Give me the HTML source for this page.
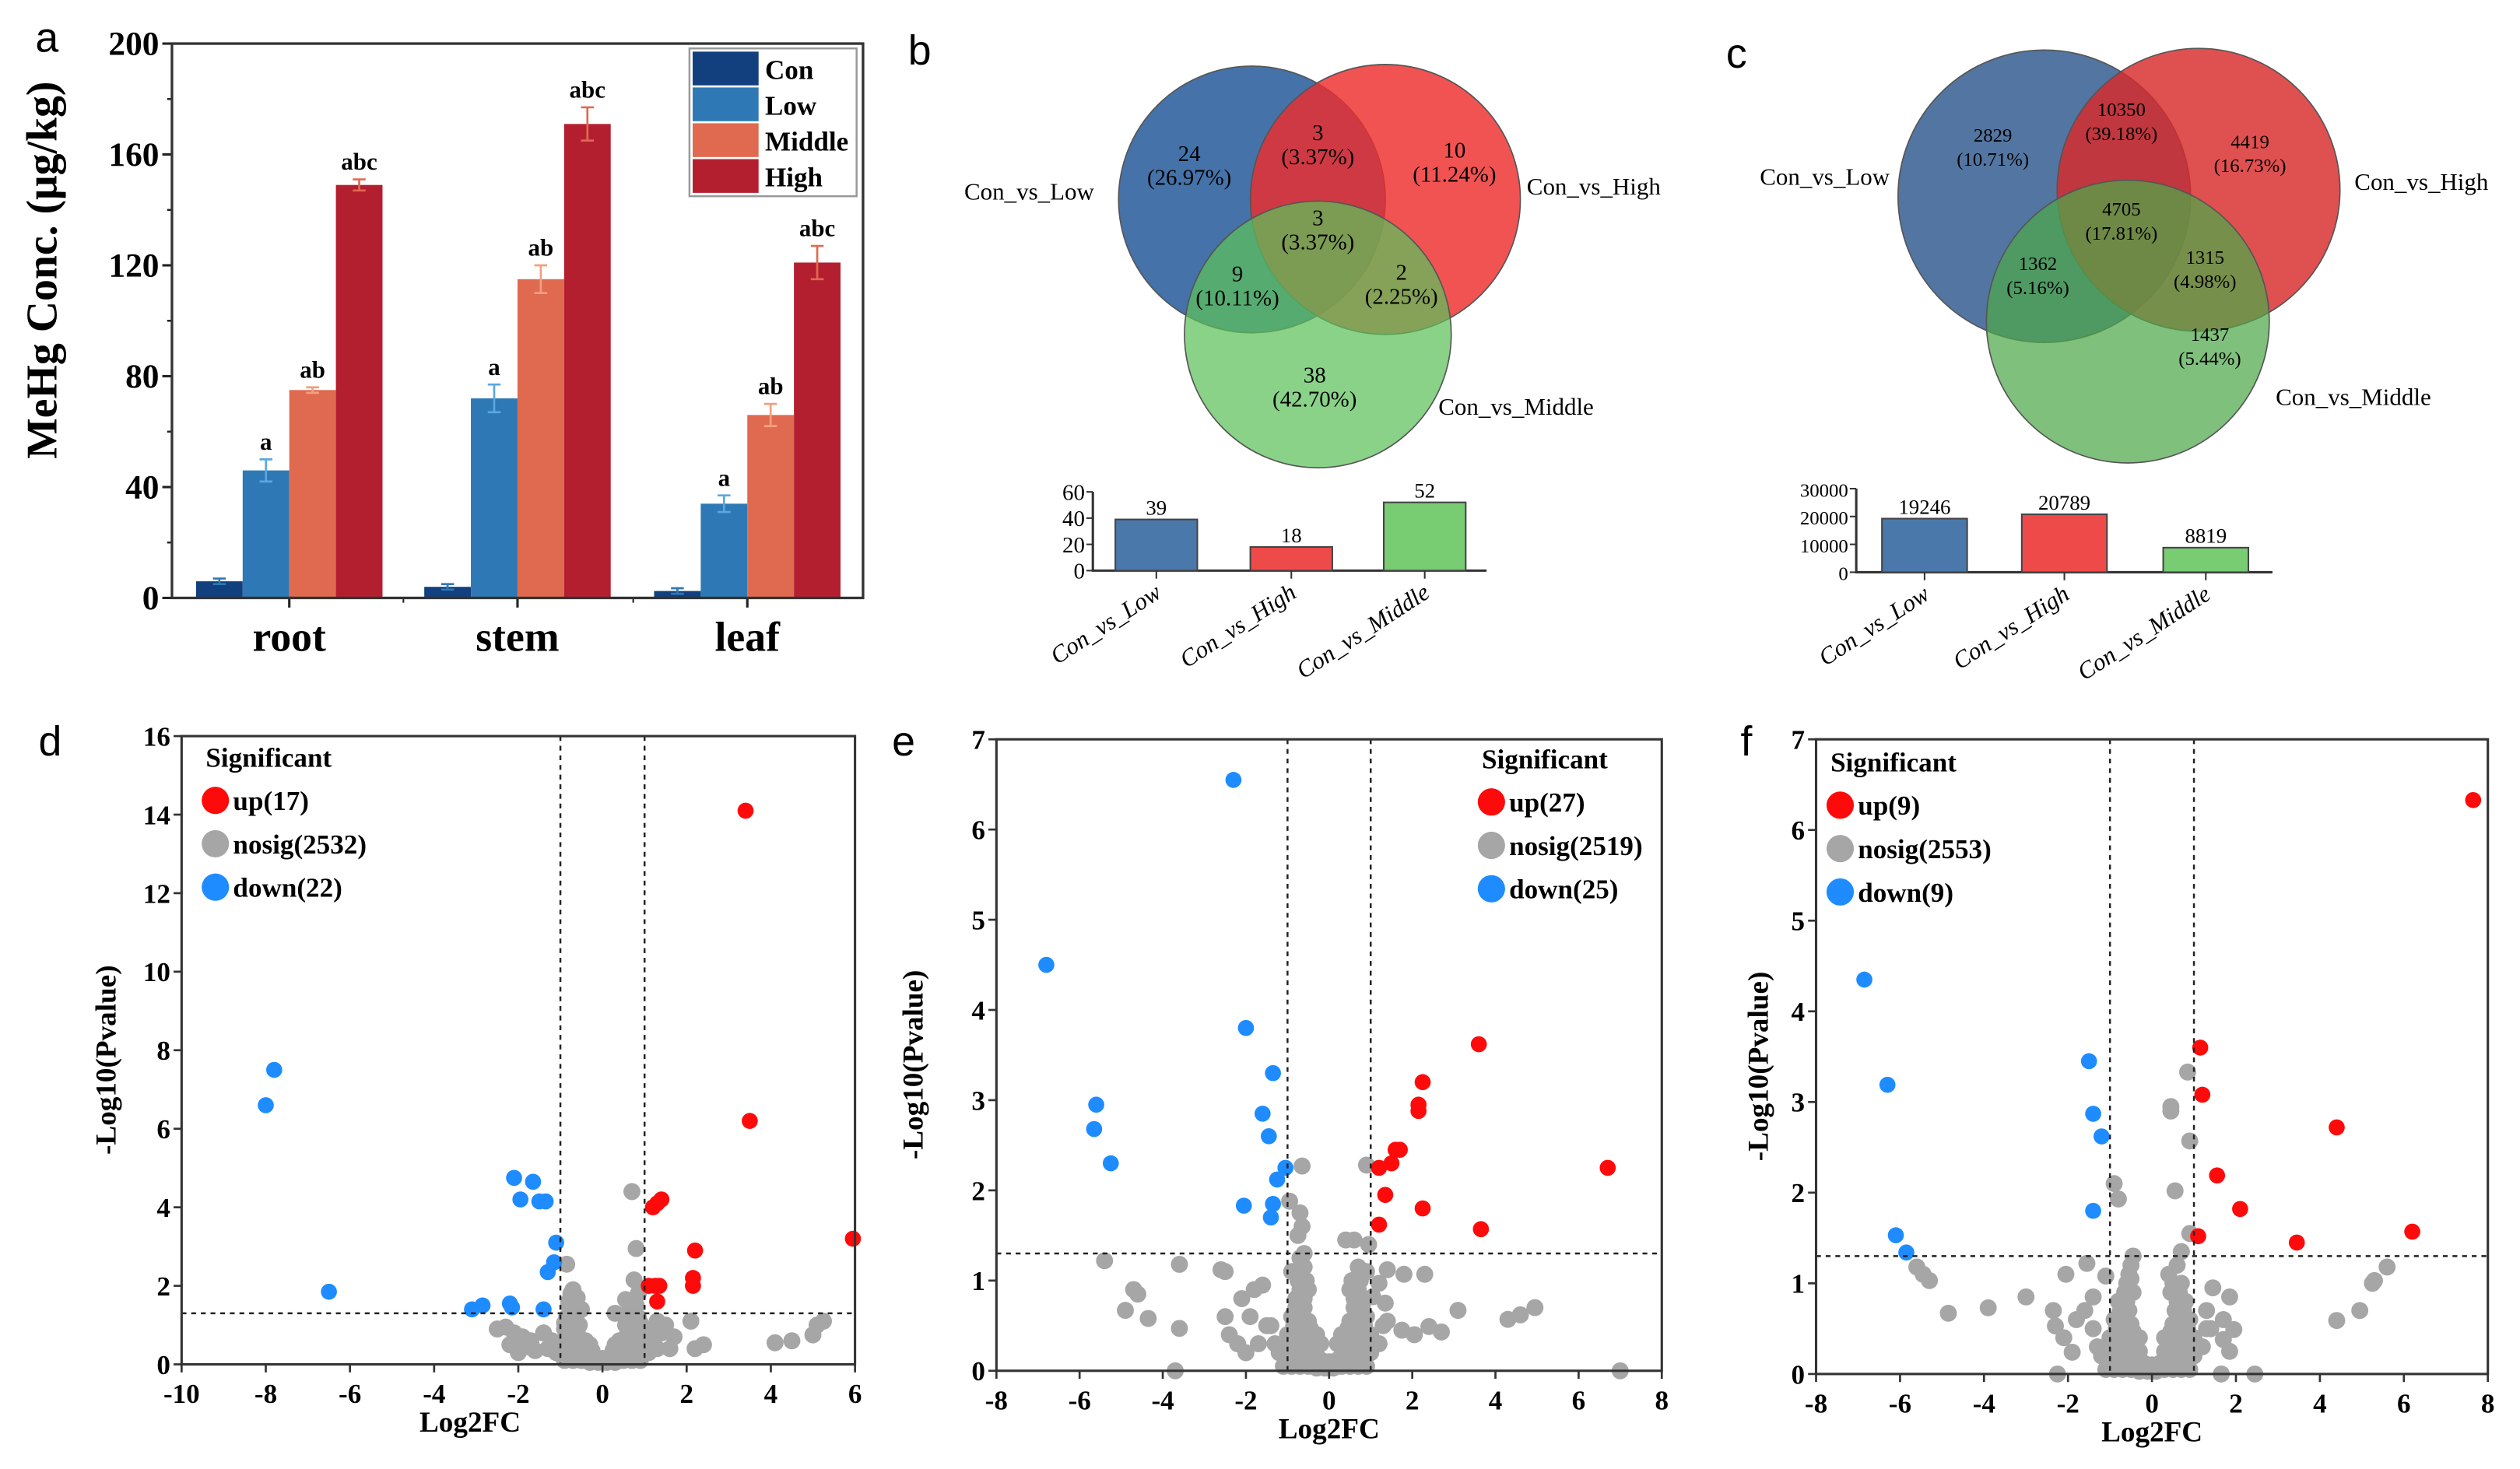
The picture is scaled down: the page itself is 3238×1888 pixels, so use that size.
<!DOCTYPE html>
<html><head><meta charset="utf-8">
<style>
html,body{margin:0;padding:0;background:#fff;}
svg{display:block;}
text{font-family:"Liberation Serif",serif;}
.b{font-weight:bold;}
.sans{font-family:"Liberation Sans",sans-serif;}
</style></head>
<body>
<svg id="fig" width="3238" height="1888" viewBox="0 0 1568 914" xmlns="http://www.w3.org/2000/svg">
<g id="pa"></g>
<g id="pb"></g>
<g id="pc"></g>
<g id="pd"></g>
<g id="pe"></g>
<g id="pf"></g>
</svg>
<script>
// ---------- Panel a data ----------
const aTissues = ["root","stem","leaf"];
const aSeries = ["Con","Low","Middle","High"];
const aCon = [6,4,2.5];
const aLow = [46,72,34];
const aMid = [75,115,66];
const aHigh = [149,171,121];
const aErrCon = [1,1,1];
const aErrLow = [4,5,3];
const aErrMid = [1,5,4];
const aErrHigh = [2,6,6];
const aLetters = [["","a","ab","abc"],["","a","ab","abc"],["","a","ab","abc"]];
const aTicks = [0,40,80,120,160,200];
// ---------- Panel b/c data ----------
const bCats = ["Con_vs_Low","Con_vs_High","Con_vs_Middle"];
const bVals = [39,18,52];
const bTicks = [0,20,40,60];
const bVenn = ["24","(26.97%)","3","(3.37%)","10","(11.24%)","3","(3.37%)","9","(10.11%)","2","(2.25%)","38","(42.70%)"];
const cVals = [19246,20789,8819];
const cTicks = [0,10000,20000,30000];
const cVenn = ["2829","(10.71%)","10350","(39.18%)","4419","(16.73%)","4705","(17.81%)","1362","(5.16%)","1315","(4.98%)","1437","(5.44%)"];
// ---------- Panel d data ----------
const dUpX = [3.4,3.5,5.95,1.2,1.4,1.3,2.2,2.15,2.15,1.1,1.25,1.3,1.35];
const dUpY = [14.1,6.2,3.2,4.0,4.2,4.1,2.9,2.2,2.0,2.0,2.0,1.6,2.0];
const dDownX = [-8,-7.8,-6.5,-2.1,-1.65,-1.95,-1.5,-1.35,-1.1,-1.15,-1.3,-3.1,-2.85,-2.2,-2.15,-1.4];
const dDownY = [6.6,7.5,1.85,4.75,4.65,4.2,4.15,4.15,3.1,2.6,2.35,1.4,1.5,1.55,1.45,1.4];
const dNsX = [0.7,0.8,-0.85,0.75,0.55,-0.7,-0.6,-0.8,-0.5,0.3,-2.5,-2.3,-2.1,-1.9,-1.7,-2.2,-1.6,-1.8,-2.0,1.1,1.3,1.5,1.7,1.2,1.6,2.1,2.2,2.4,4.1,4.5,5.0,5.1,5.25,
 -0.9,-0.7,-0.5,-0.3,-0.1,0.1,0.3,0.5,0.7,0.9,-1.0,-0.8,-0.6,-0.4,-0.2,0,0.2,0.4,0.6,0.8,1.0,-0.9,-0.7,-0.5,0.5,0.7,0.9,-0.9,-0.7,-0.6,0.6,0.8,0.9,-0.85,-0.7,0.7,0.85,-0.8,-0.65,0.8,-0.75,0.85,-1.2,-1.4,1.2,1.4,
 -0.95,-0.75,-0.55,-0.35,-0.15,0.05,0.25,0.45,0.65,0.85,-0.85,-0.65,-0.45,-0.25,0.25,0.45,0.65,0.85,-0.8,-0.6,-0.4,0.4,0.6,0.8,-0.75,-0.55,0.55,0.75,-0.7,0.7,-0.9,-0.6,0.6,0.9,-0.3,0.3,-1.1,1.1,-1.3,1.3];
const dNsY = [4.4,2.95,2.55,2.15,1.65,1.9,1.7,1.6,1.4,1.3,0.9,0.95,0.8,0.7,0.6,0.5,0.35,0.45,0.3,0.9,1.1,1.0,0.7,0.5,0.4,1.1,0.4,0.5,0.55,0.6,0.75,1.0,1.1,
 0.1,0.1,0.1,0.05,0.05,0.05,0.05,0.1,0.1,0.1,0.3,0.3,0.3,0.25,0.2,0.15,0.2,0.25,0.3,0.3,0.3,0.6,0.6,0.5,0.5,0.6,0.6,0.9,0.9,0.8,0.8,0.9,0.9,1.2,1.2,1.2,1.2,1.5,1.5,1.5,1.8,1.8,0.6,0.8,0.6,0.8,
 0.2,0.2,0.2,0.15,0.1,0.1,0.15,0.2,0.2,0.2,0.45,0.45,0.4,0.35,0.35,0.4,0.45,0.45,0.75,0.7,0.6,0.6,0.7,0.75,1.05,1.0,1.0,1.05,1.35,1.35,1.05,1.3,1.3,1.05,0.5,0.5,0.3,0.3,0.4,0.4];
// ---------- Panel e data ----------
const eUpX = [3.6,2.25,2.15,2.15,1.6,1.7,1.5,1.2,1.35,2.25,1.2,3.65,6.7];
const eUpY = [3.62,3.2,2.95,2.88,2.45,2.45,2.3,2.25,1.95,1.8,1.62,1.57,2.25];
const eDownX = [-2.3,-6.8,-2,-1.35,-5.6,-5.65,-5.25,-1.6,-1.45,-1.05,-1.25,-2.05,-1.35,-1.4];
const eDownY = [6.55,4.5,3.8,3.3,2.95,2.68,2.3,2.85,2.6,2.25,2.12,1.83,1.85,1.7];
const eNsX = [-0.65,0.9,-0.95,-0.7,-0.65,-0.75,0.4,0.6,0.95,-0.6,-5.4,-3.6,-2.5,-2.6,-4.7,-4.6,-4.9,-4.35,-3.6,-3.7,3.1,4.3,4.6,4.95,7,2.3,1.8,1.4,1.2,2.7,2.4,2.05,1.75,1.4,1.05,1.35,-1.6,-1.8,-2.1,-2.5,-2.4,-1.9,-2.2,-1.5,-1.7,-2.0,
 -1.1,-0.9,-0.7,-0.5,-0.3,-0.1,0.1,0.3,0.5,0.7,0.9,-1.2,-1.0,-0.8,-0.6,-0.4,-0.2,0,0.2,0.4,0.6,0.8,1.0,-1.0,-0.8,-0.6,-0.4,0.4,0.6,0.8,1.0,-0.9,-0.7,-0.5,0.5,0.7,0.9,-0.8,-0.6,0.6,0.8,-0.75,-0.55,0.55,0.75,-0.6,0.5,0.7,-0.7,0.2,-0.2,
 -1.0,-0.8,-0.6,-0.4,-0.2,0,0.2,0.4,0.6,0.8,-0.9,-0.7,-0.5,-0.3,0.3,0.5,0.7,0.9,-0.85,-0.65,-0.45,0.45,0.65,0.85,-0.8,-0.6,0.6,0.8,-0.7,-0.5,0.5,0.7,-1.3,1.2,-1.4,1.3,-0.3,0.3,-0.9,0.9];
const eNsY = [2.27,2.28,1.88,1.75,1.6,1.5,1.45,1.45,1.4,1.3,1.22,1.18,1.1,1.12,0.9,0.85,0.67,0.58,0.47,0.0,0.67,0.57,0.62,0.7,0,1.07,1.07,1.12,0.97,0.43,0.49,0.4,0.45,0.55,0.82,0.75,0.95,0.9,0.8,0.6,0.4,0.6,0.3,0.5,0.3,0.2,
 0.05,0.05,0.05,0.05,0.03,0.03,0.03,0.05,0.05,0.05,0.05,0.2,0.2,0.2,0.18,0.15,0.12,0.1,0.12,0.15,0.2,0.2,0.2,0.4,0.4,0.4,0.35,0.35,0.4,0.4,0.4,0.6,0.6,0.55,0.55,0.6,0.6,0.8,0.8,0.8,0.8,1.0,1.0,1.0,1.0,1.15,0.9,1.15,1.25,0.3,0.3,
 0.12,0.12,0.1,0.1,0.08,0.06,0.08,0.1,0.12,0.12,0.3,0.3,0.28,0.25,0.25,0.28,0.3,0.3,0.5,0.5,0.47,0.47,0.5,0.5,0.7,0.7,0.7,0.7,0.9,0.9,0.9,0.9,0.3,0.3,0.5,0.5,0.4,0.4,1.1,1.1];
// ---------- Panel f data ----------
const fUpX = [7.65,1.15,1.2,4.4,1.55,2.1,1.1,3.45,6.2];
const fUpY = [6.33,3.6,3.08,2.72,2.19,1.82,1.52,1.45,1.57];
const fDownX = [-6.85,-6.3,-1.5,-1.4,-1.2,-1.4,-6.1,-5.85];
const fDownY = [4.35,3.19,3.45,2.87,2.62,1.8,1.53,1.34];
const fNsX = [0.85,0.45,0.45,0.9,-0.9,-0.8,0.55,0.9,0.7,-0.45,-5.6,-5.45,-5.3,-4.85,-3.9,-3,-2.05,-1.55,-1.1,-2.35,-2.3,-2.1,-1.9,-2.25,1.45,1.85,1.7,1.95,1.7,1.85,1.65,2.45,4.4,4.95,5.25,5.3,5.6,-1.6,-1.8,-1.4,1.3,1.4,
 -1.1,-0.9,-0.7,-0.5,-0.3,-0.1,0.1,0.3,0.5,0.7,0.9,-1.2,-1.0,-0.8,-0.6,-0.4,-0.2,0,0.2,0.4,0.6,0.8,1.0,-1.0,-0.8,-0.6,-0.4,0.4,0.6,0.8,1.0,-0.9,-0.7,-0.5,0.5,0.7,0.9,-0.8,-0.6,0.6,0.8,-0.6,-0.5,0.5,0.7,-0.5,-0.45,0.4,0.6,
 -1.0,-0.8,-0.6,-0.4,-0.2,0,0.2,0.4,0.6,0.8,-0.9,-0.7,-0.5,-0.3,0.3,0.5,0.7,0.9,-0.85,-0.65,-0.45,0.45,0.65,0.85,-0.75,-0.55,0.55,0.75,-0.65,-0.45,0.45,0.65,-1.3,1.2,-1.4,1.3,-0.3,0.3,-0.55,0.5];
const fNsY = [3.33,2.95,2.9,2.57,2.1,1.93,2.02,1.55,1.35,1.3,1.18,1.1,1.03,0.67,0.73,0.85,1.1,1.22,1.08,0.7,0.53,0.4,0.24,0,0.95,0.85,0.6,0.49,0.38,0.25,0,0,0.59,0.7,1.0,1.03,1.18,0.7,0.6,0.85,0.7,0.5,
 0.05,0.05,0.05,0.05,0.03,0.03,0.03,0.05,0.05,0.05,0.05,0.2,0.2,0.2,0.18,0.15,0.12,0.1,0.12,0.15,0.2,0.2,0.2,0.4,0.4,0.4,0.35,0.35,0.4,0.4,0.4,0.6,0.6,0.55,0.55,0.6,0.6,0.8,0.8,0.8,0.8,1.0,1.05,1.0,1.0,1.2,1.3,1.1,1.2,
 0.12,0.12,0.1,0.1,0.08,0.06,0.08,0.1,0.12,0.12,0.3,0.3,0.28,0.25,0.25,0.28,0.3,0.3,0.5,0.5,0.47,0.47,0.5,0.5,0.7,0.7,0.7,0.7,0.9,0.9,0.9,0.9,0.3,0.3,0.5,0.5,0.4,0.4,1.1,0.9];

const NS = "http://www.w3.org/2000/svg";
function mk(parent, tag, attrs, txt){
  const e = document.createElementNS(NS, tag);
  for (const k in attrs) e.setAttribute(k, attrs[k]);
  if (txt !== undefined) e.textContent = txt;
  parent.appendChild(e);
  return e;
}
function named(e, name, inter){
  
  
  return e;
}

// ================= Panel a =================
(function(){
  const g = document.getElementById('pa');
  const L=107, R=537, T=27, B=372, vmax=200;
  const y = v => B - v/vmax*(B-T);
  const centers = [180,322,465];
  const bw = 29;
  const colors = ["#123f7e","#2e79b5","#e06a50","#b41f30"];
  const errColors = ["#2e79b5","#5aa8e0","#f0a080","#e06a50"];
  const series = [aCon,aLow,aMid,aHigh];
  const errs = [aErrCon,aErrLow,aErrMid,aErrHigh];
  let t = mk(g,'text',{x:22,y:32,'font-size':26,class:'sans'},'a'); named(t,'panel-a-label',false);
  aTicks.forEach(v=>{
    const l = mk(g,'line',{x1:L-6,x2:L,y1:y(v),y2:y(v),stroke:'#222','stroke-width':1.5}); named(l,'y-tick',false);
    const tt = mk(g,'text',{x:L-8,y:y(v)+7,'font-size':21,'text-anchor':'end',class:'b'},v); named(tt,'y-tick-label',false);
    if (v<vmax){ const m=mk(g,'line',{x1:L-3,x2:L,y1:y(v+20),y2:y(v+20),stroke:'#222','stroke-width':1.2}); named(m,'y-minor-tick',false);}
  });
  aTissues.forEach((name,i)=>{
    series.forEach((s,j)=>{
      const x0 = centers[i]-2*bw+j*bw;
      const r = mk(g,'rect',{x:x0,y:y(s[i]),width:bw,height:B-y(s[i]),fill:colors[j]});
      named(r,'bar-'+name+'-'+aSeries[j].toLowerCase(),false);
      const cx = x0+bw/2, e = errs[j][i];
      const eb = mk(g,'path',{d:`M${cx},${y(s[i]+e)}V${y(s[i]-e)}M${cx-4},${y(s[i]+e)}H${cx+4}M${cx-4},${y(s[i]-e)}H${cx+4}`,stroke:errColors[j],'stroke-width':1.3,fill:'none'});
      named(eb,'error-bar',false);
      if (aLetters[i][j]){ const lt=mk(g,'text',{x:cx,y:y(s[i]+e)-6,'font-size':15,'text-anchor':'middle',class:'b'},aLetters[i][j]); named(lt,'significance-letter',false);}
    });
    const xt = mk(g,'line',{x1:centers[i],x2:centers[i],y1:B,y2:B+6,stroke:'#222','stroke-width':1.5}); named(xt,'x-tick',false);
    const xl = mk(g,'text',{x:centers[i],y:405,'font-size':26,'text-anchor':'middle',class:'b'},name); named(xl,'x-label-'+name,false);
  });
  [251,394].forEach(x=>{const m=mk(g,'line',{x1:x,x2:x,y1:B,y2:B+3,stroke:'#222'}); named(m,'x-minor-tick',false);});
  const fr = mk(g,'rect',{x:L,y:T,width:R-L,height:B-T,fill:'none',stroke:'#333','stroke-width':1.6}); named(fr,'plot-frame',false);
  const yt = mk(g,'text',{x:0,y:0,'font-size':27,'text-anchor':'middle',class:'b',transform:`translate(35,168) rotate(-90)`},'MeHg Conc. (μg/kg)'); named(yt,'y-axis-title',false);
  const lg = mk(g,'g',{}); named(lg,'legend',false);
  mk(lg,'rect',{x:429,y:30,width:104,height:92,fill:'#fff',stroke:'#999','stroke-width':1.2});
  aSeries.forEach((s,j)=>{
    const sw = mk(lg,'rect',{x:431,y:32+j*22.3,width:41,height:21,fill:colors[j]}); named(sw,'legend-swatch-'+s.toLowerCase(),false);
    const lt = mk(lg,'text',{x:476,y:49+j*22.3,'font-size':17,class:'b'},s); named(lt,'legend-entry-'+s.toLowerCase(),false);
  });
})();

// ================= Venn + mini bar helpers =================
function venn(g, circles, labels, texts, textPos, fs){
  circles.forEach(c=>{ const e=mk(g,'circle',{cx:c.cx,cy:c.cy,r:c.r,fill:c.fill,'fill-opacity':c.op,stroke:'#555','stroke-width':0.8}); named(e,c.name,false);});
  textPos.forEach((p,i)=>{
    const a=mk(g,'text',{x:p[0],y:p[1],'font-size':fs,'text-anchor':'middle'},texts[2*i]); named(a,'venn-count',false);
    const b=mk(g,'text',{x:p[0],y:p[1]+15,'font-size':fs,'text-anchor':'middle'},texts[2*i+1]); named(b,'venn-percent',false);
  });
  labels.forEach(l=>{ const e=mk(g,'text',{x:l[0],y:l[1],'font-size':15},l[2]); named(e,'venn-set-label',false);});
}
function miniBar(g, axisX, top, bottom, endX, vals, ticks, barX, bw, fs){
  const vmax = ticks[ticks.length-1];
  const y = v => bottom - v/vmax*(bottom-top);
  const cols = ["#4a78ab","#ef4a4a","#78cc72"];
  const ax = mk(g,'path',{d:`M${axisX},${top}V${bottom}H${endX}`,stroke:'#333','stroke-width':1.5,fill:'none'}); named(ax,'mini-axis',false);
  ticks.forEach(v=>{
    mk(g,'line',{x1:axisX-4,x2:axisX,y1:y(v),y2:y(v),stroke:'#333'});
    const t=mk(g,'text',{x:axisX-5,y:y(v)+5,'font-size':fs,'text-anchor':'end'},v); named(t,'mini-y-tick-label',false);
  });
  vals.forEach((v,i)=>{
    const r=mk(g,'rect',{x:barX[i],y:y(v),width:bw,height:bottom-y(v),fill:cols[i],stroke:'#444','stroke-width':1}); named(r,'mini-bar-'+bCats[i].toLowerCase().replace(/_/g,'-'),false);
    const t=mk(g,'text',{x:barX[i]+bw/2,y:y(v)-3,'font-size':13,'text-anchor':'middle'},v); named(t,'mini-bar-value',false);
    const cx = barX[i]+bw/2;
    mk(g,'line',{x1:cx,x2:cx,y1:bottom,y2:bottom+5,stroke:'#333'});
    const lab=mk(g,'text',{x:0,y:0,'font-size':15,'font-style':'italic','text-anchor':'end',transform:`translate(${cx+4},${bottom+16}) rotate(-33)`},bCats[i]); named(lab,'mini-x-label',false);
  });
}
(function(){
  const g=document.getElementById('pb');
  const t=mk(g,'text',{x:565,y:40,'font-size':26,class:'sans'},'b'); named(t,'panel-b-label',false);
  venn(g,[
    {cx:779,cy:124,r:83,fill:'#3b6aa3',op:0.95,name:'venn-circle-con-vs-low'},
    {cx:862,cy:124,r:84,fill:'#ee2d2d',op:0.82,name:'venn-circle-con-vs-high'},
    {cx:820,cy:208,r:83,fill:'#5cc05a',op:0.72,name:'venn-circle-con-vs-middle'}],
    [[600,124,'Con_vs_Low'],[950,121,'Con_vs_High'],[895,258,'Con_vs_Middle']],
    bVenn,[[740,100],[820,87],[905,98],[820,140],[770,175],[872,174],[818,238]],14);
  miniBar(g,680,306,355,925,bVals,bTicks,[694,778,861],51,14);
})();
(function(){
  const g=document.getElementById('pc');
  const t=mk(g,'text',{x:1074,y:42,'font-size':26,class:'sans'},'c'); named(t,'panel-c-label',false);
  venn(g,[
    {cx:1272,cy:122,r:91,fill:'#4a6e9c',op:0.95,name:'venn-circle-con-vs-low'},
    {cx:1368,cy:118,r:88,fill:'#d82a2a',op:0.82,name:'venn-circle-con-vs-high'},
    {cx:1324,cy:200,r:88,fill:'#4ea84a',op:0.72,name:'venn-circle-con-vs-middle'}],
    [[1095,115,'Con_vs_Low'],[1465,118,'Con_vs_High'],[1416,252,'Con_vs_Middle']],
    cVenn,[[1240,88],[1320,72],[1400,92],[1320,134],[1268,168],[1372,164],[1375,212]],12);
  miniBar(g,1155,304,356,1414,cVals,cTicks,[1171,1258,1346],53,12);
})();

// ================= Volcano helper =================
function volcano(g, o){
  const x = v => o.L + (v-o.xmin)/(o.xmax-o.xmin)*(o.R-o.L);
  const y = v => o.B - (v-o.ymin)/(o.ymax-o.ymin)*(o.B-o.T);
  const lt=mk(g,'text',{x:o.letterX,y:470,'font-size':26,class:'sans'},o.letter); named(lt,'panel-'+o.letter+'-label',false);
  const pts = mk(g,'g',{}); named(pts,'points',false);
  o.nsX.forEach((v,i)=>{ const c=mk(pts,'circle',{cx:x(v),cy:y(o.nsY[i]),r:5.3,fill:'#a6a6a6'}); named(c,'point-nosig',false);});
  o.downX.forEach((v,i)=>{ const c=mk(pts,'circle',{cx:x(v),cy:y(o.downY[i]),r:5,fill:'#1e8cff'}); named(c,'point-down',false);});
  o.upX.forEach((v,i)=>{ const c=mk(pts,'circle',{cx:x(v),cy:y(o.upY[i]),r:5,fill:'#ff0a0a'}); named(c,'point-up',false);});
  [-1,1].forEach(v=>{const l=mk(g,'line',{x1:x(v),x2:x(v),y1:o.T,y2:o.B,stroke:'#222','stroke-width':1.2,'stroke-dasharray':'3,3'}); named(l,'fc-threshold-line',false);});
  const hl=mk(g,'line',{x1:o.L,x2:o.R,y1:y(1.3),y2:y(1.3),stroke:'#222','stroke-width':1.2,'stroke-dasharray':'3,3'}); named(hl,'pvalue-threshold-line',false);
  const fr=mk(g,'rect',{x:o.L,y:o.T,width:o.R-o.L,height:o.B-o.T,fill:'none',stroke:'#333','stroke-width':1.5}); named(fr,'plot-frame',false);
  o.xt.forEach(v=>{
    mk(g,'line',{x1:x(v),x2:x(v),y1:o.B,y2:o.B+5,stroke:'#333','stroke-width':1.3});
    const t=mk(g,'text',{x:x(v),y:o.B+24,'font-size':17,'text-anchor':'middle',class:'b'},v); named(t,'x-tick-label',false);
  });
  o.yt.forEach(v=>{
    mk(g,'line',{x1:o.L-5,x2:o.L,y1:y(v),y2:y(v),stroke:'#333','stroke-width':1.3});
    const t=mk(g,'text',{x:o.L-7,y:y(v)+6,'font-size':17,'text-anchor':'end',class:'b'},v); named(t,'y-tick-label',false);
  });
  const xtl=mk(g,'text',{x:(o.L+o.R)/2-(o.letter==='d'?30:0),y:o.B+42,'font-size':18,'text-anchor':'middle',class:'b'},'Log2FC'); named(xtl,'x-axis-title',false);
  const ytl=mk(g,'text',{x:0,y:0,'font-size':18,'text-anchor':'middle',class:'b',transform:`translate(${o.ytX},${(o.T+o.B)/2+6}) rotate(-90)`},'-Log10(Pvalue)'); named(ytl,'y-axis-title',false);
  const lg=mk(g,'g',{}); named(lg,'legend',false);
  mk(lg,'text',{x:o.lgX-6,y:o.lgY,'font-size':17,class:'b'},'Significant');
  [['#ff0a0a',o.lab[0]],['#a6a6a6',o.lab[1]],['#1e8cff',o.lab[2]]].forEach((e,i)=>{
    const c=mk(lg,'circle',{cx:o.lgX,cy:o.lgY+21+i*27,r:8.5,fill:e[0]}); named(c,'legend-marker',false);
    const t=mk(lg,'text',{x:o.lgX+11,y:o.lgY+27+i*27,'font-size':17,class:'b'},e[1]); named(t,'legend-entry',false);
  });
}
volcano(document.getElementById('pd'),{letter:'d',letterX:24,L:113,R:532,T:458,B:849,xmin:-10,xmax:6,ymin:0,ymax:16,
  xt:[-10,-8,-6,-4,-2,0,2,4,6],yt:[0,2,4,6,8,10,12,14,16],ytX:72,lgX:134,lgY:477,
  lab:['up(17)','nosig(2532)','down(22)'],upX:dUpX,upY:dUpY,downX:dDownX,downY:dDownY,nsX:dNsX,nsY:dNsY});
volcano(document.getElementById('pe'),{letter:'e',letterX:555,L:620,R:1034,T:460,B:853,xmin:-8,xmax:8,ymin:0,ymax:7,
  xt:[-8,-6,-4,-2,0,2,4,6,8],yt:[0,1,2,3,4,5,6,7],ytX:574,lgX:928,lgY:478,
  lab:['up(27)','nosig(2519)','down(25)'],upX:eUpX,upY:eUpY,downX:eDownX,downY:eDownY,nsX:eNsX,nsY:eNsY});
volcano(document.getElementById('pf'),{letter:'f',letterX:1083,L:1130,R:1548,T:460,B:855,xmin:-8,xmax:8,ymin:0,ymax:7,
  xt:[-8,-6,-4,-2,0,2,4,6,8],yt:[0,1,2,3,4,5,6,7],ytX:1100,lgX:1145,lgY:480,
  lab:['up(9)','nosig(2553)','down(9)'],upX:fUpX,upY:fUpY,downX:fDownX,downY:fDownY,nsX:fNsX,nsY:fNsY});
</script>
</body></html>
